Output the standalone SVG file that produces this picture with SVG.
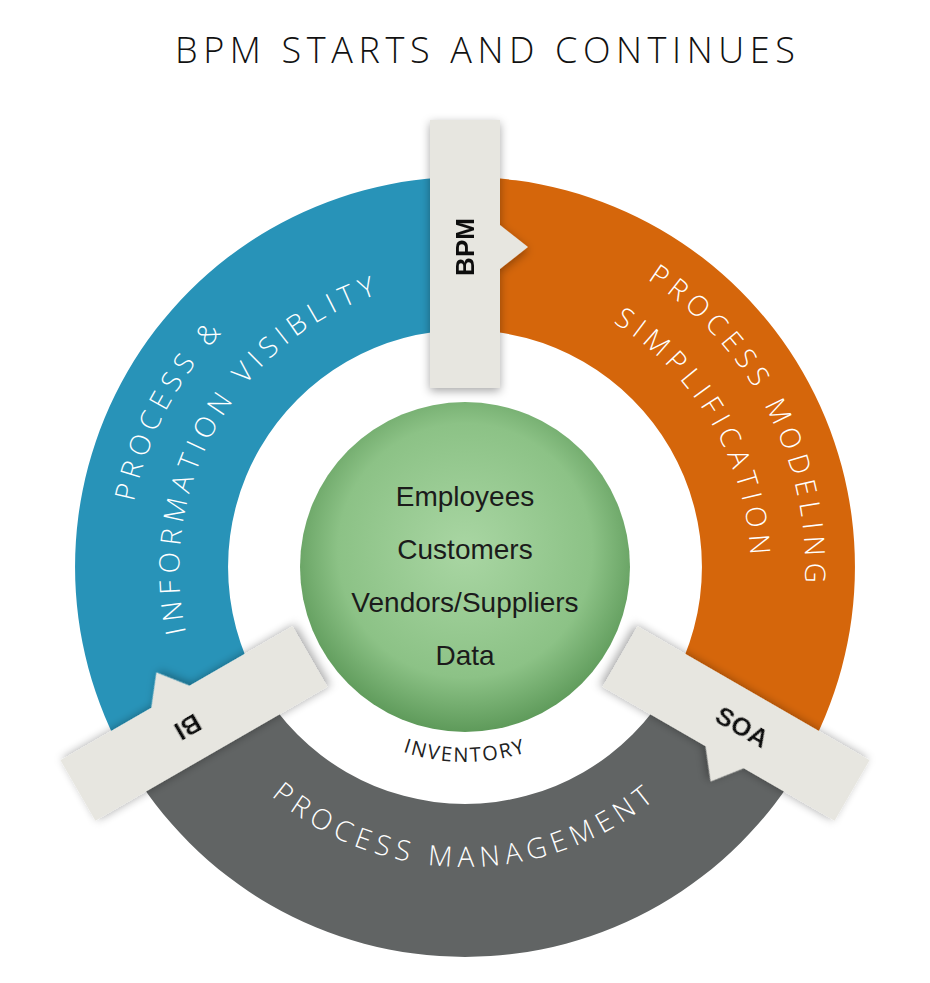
<svg xmlns="http://www.w3.org/2000/svg" width="930" height="983" viewBox="0 0 930 983">
<style>
.ring{font-family:"Open Sans","Liberation Sans",sans-serif;font-weight:300;font-size:28px;fill:#fff;letter-spacing:6px}
.tabt{font-family:"Liberation Sans",Arial,sans-serif;font-weight:bold;font-size:26px;fill:#111}
.ctr{font-family:"Liberation Sans",Arial,sans-serif;font-size:28px;fill:#1b1b1b}
.tab{fill:#e7e6e0}
</style>
<defs>
<radialGradient id="g" cx="50%" cy="45%" r="55%">
<stop offset="0" stop-color="#a9d6a3"/><stop offset="0.7" stop-color="#8cc286"/><stop offset="1" stop-color="#5e9a5a"/>
</radialGradient>
<filter id="sh" x="-30%" y="-30%" width="160%" height="160%"><feDropShadow dx="0" dy="3" stdDeviation="5" flood-opacity="0.35"/></filter>
<path id="bo" d="M305.4,867.2 A340,340 0 0 1 624.6,266.8"/>
<path id="bi" d="M320,818.1 A290,290 0 0 1 610,315.9"/>
<path id="oo" d="M309.7,262.3 A342,342 0 0 1 620.3,871.7"/>
<path id="oi" d="M320,315.9 A290,290 0 0 1 610,818.1"/>
<path id="go" d="M165,567 A300,300 0 0 0 765,567"/>
<path id="inv" d="M270,567 A195,195 0 0 0 660,567"/>
</defs>
<text x="485" y="63" font-family="Open Sans, Liberation Sans, sans-serif" font-weight="300" font-size="36" fill="#111" text-anchor="middle" textLength="620" lengthAdjust="spacing">BPM  STARTS  AND  CONTINUES</text>
<g id="ring">
<path d="M465,177 A390,390 0 0 0 127.3,762 L259.8,685.5 A237,237 0 0 1 465,330 Z" fill="#2893b8"/>
<path d="M465,177 A390,390 0 0 1 802.7,762 L670.2,685.5 A237,237 0 0 0 465,330 Z" fill="#d5660b"/>
<path d="M127.3,762 A390,390 0 0 0 802.7,762 L670.2,685.5 A237,237 0 0 1 259.8,685.5 Z" fill="#616464"/>
</g>
<g id="ring-text" class="ring">
<text><textPath href="#bo" startOffset="50%" text-anchor="middle">PROCESS &amp;</textPath></text>
<text><textPath href="#bi" startOffset="50%" text-anchor="middle">INFORMATION VISIBLITY</textPath></text>
<text><textPath href="#oo" startOffset="50%" text-anchor="middle">PROCESS MODELING</textPath></text>
<text><textPath href="#oi" startOffset="50%" text-anchor="middle">SIMPLIFICATION</textPath></text>
<text><textPath href="#go" startOffset="50%" text-anchor="middle">PROCESS MANAGEMENT</textPath></text>
</g>
<g id="bpm" filter="url(#sh)">
<path class="tab" d="M430,120 H500 V225 L528,247 L500,269 V388 H430 Z"/>
<text class="tabt" x="465" y="247" text-anchor="middle" dominant-baseline="central" transform="rotate(-90 465 247)">BPM</text>
</g>
<g id="bi-tab" filter="url(#sh)" transform="rotate(-120 465 567)">
<path class="tab" d="M430,120 H500 V225 L528,247 L500,269 V388 H430 Z"/>
<text class="tabt" x="465" y="247" text-anchor="middle" dominant-baseline="central" transform="rotate(-90 465 247)">BI</text>
</g>
<g id="soa" filter="url(#sh)" transform="rotate(120 465 567)">
<path class="tab" d="M430,120 H500 V225 L528,247 L500,269 V388 H430 Z"/>
<text class="tabt" x="465" y="247" text-anchor="middle" dominant-baseline="central" transform="rotate(-90 465 247)">SOA</text>
</g>
<g id="center">
<circle cx="465" cy="567" r="165" fill="url(#g)"/>
<text class="ctr" x="465" y="506" text-anchor="middle">Employees</text>
<text class="ctr" x="465" y="559" text-anchor="middle">Customers</text>
<text class="ctr" x="465" y="612" text-anchor="middle">Vendors/Suppliers</text>
<text class="ctr" x="465" y="665" text-anchor="middle">Data</text>
</g>
<g id="inventory">
<text font-family="Open Sans, Liberation Sans, sans-serif" font-size="20" fill="#222" letter-spacing="2"><textPath href="#inv" startOffset="50%" text-anchor="middle">INVENTORY</textPath></text>
</g>
</svg>
